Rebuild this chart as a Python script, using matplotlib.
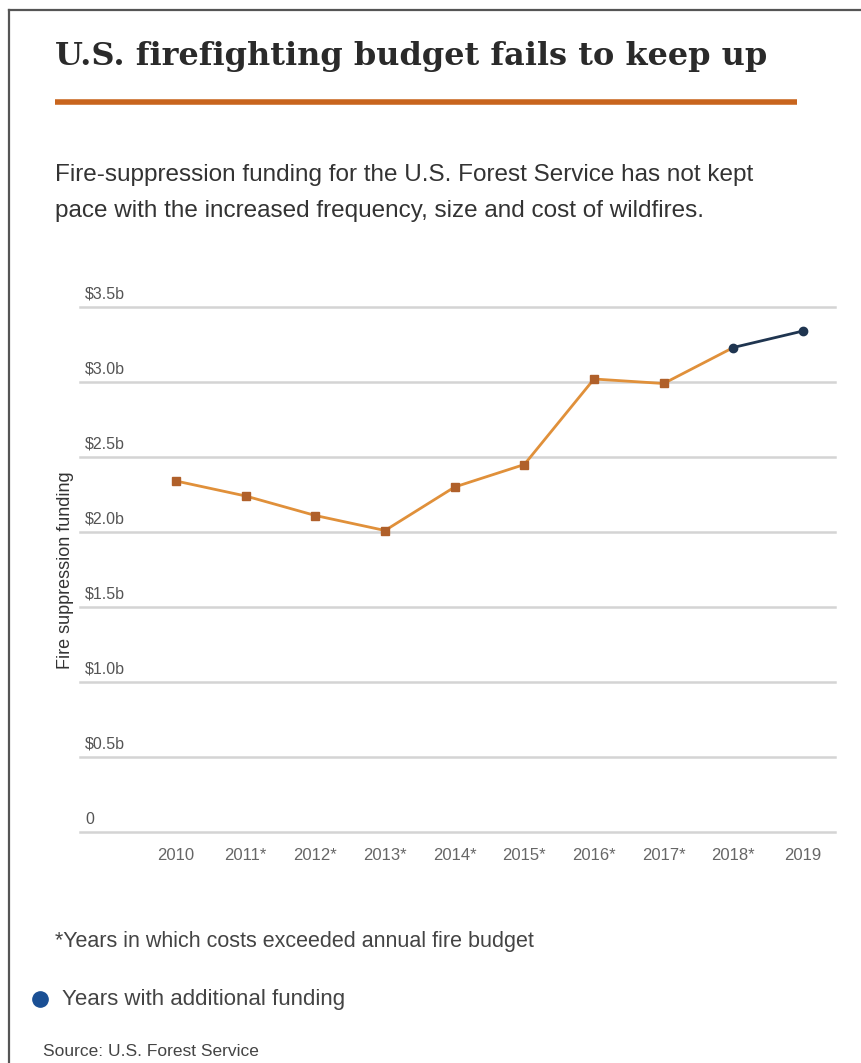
import matplotlib
matplotlib.use("Agg")
from matplotlib import pyplot as plt
from matplotlib.lines import Line2D
import numpy as np

W, H = 862, 1063

years = ["2010", "2011*", "2012*", "2013*", "2014*", "2015*", "2016*", "2017*", "2018*", "2019"]
funding = [2.34, 2.24, 2.11, 2.01, 2.30, 2.45, 3.02, 2.99, 3.23, 3.34]
extra_funding = [False, False, False, False, False, False, False, False, True, True]
y_ticks = [0, 0.5, 1.0, 1.5, 2.0, 2.5, 3.0, 3.5]
y_tick_labels = ["0", "$0.5b", "$1.0b", "$1.5b", "$2.0b", "$2.5b", "$3.0b", "$3.5b"]

orange = "#e0903a"
brown = "#b0602a"
navy = "#1f3550"
rule = "#c8651e"


def fx(px):
    return px / W


def fy(py):
    return 1 - py / H


fig = plt.figure(figsize=(W / 100, H / 100), dpi=100)

# frame (only left and top edges are visible in the crop)
fig.add_artist(Line2D([fx(9), fx(9)], [fy(10), 0], color="#555555", lw=1.6))
fig.add_artist(Line2D([fx(9), 1], [fy(10), fy(10)], color="#555555", lw=1.6))

fig.text(fx(55), fy(65), "U.S. firefighting budget fails to keep up",
         family="DejaVu Serif", fontsize=23, fontweight="bold",
         color="#2a2a2a", va="baseline")
fig.add_artist(Line2D([fx(55), fx(797)], [fy(102), fy(102)], color=rule, lw=4,
                      solid_capstyle="butt"))

sub = ("Fire-suppression funding for the U.S. Forest Service has not kept\n"
       "pace with the increased frequency, size and cost of wildfires.")
fig.text(fx(55), fy(164), sub, family="Liberation Sans", fontsize=17.5,
         color="#333333", va="top", linespacing=1.85)

# plot area: x 80..835 px, y value 0 at 832 px, 150 px per $1b
top_val = 3.6
ax = fig.add_axes([fx(80), fy(832), fx(835) - fx(80), (top_val * 150) / H])
ax.set_ylim(0, top_val)
ax.set_xlim(-96 / 69.67, 9 + 32 / 69.67)
ax.axis("off")

for v, lab in zip(y_ticks, y_tick_labels):
    ax.axhline(v, color="#d4d4d4", lw=1.8, zorder=0, clip_on=False)
    ax.text(0.007, v + 0.035, lab,
            transform=ax.get_yaxis_transform(), fontsize=11.5, color="#555555",
            family="Liberation Sans", ha="left", va="bottom")

x = np.arange(len(years))
for i in range(len(x) - 1):
    c = navy if extra_funding[i] and extra_funding[i + 1] else orange
    ax.plot(x[i:i + 2], funding[i:i + 2], color=c, lw=2, zorder=2)
for i in range(len(x)):
    mc = navy if extra_funding[i] else brown
    ax.plot(x[i], funding[i], "s" if not extra_funding[i] else "o", ms=6,
            color=mc, zorder=3, clip_on=False)

for i, lab in enumerate(years):
    ax.text(x[i], -0.16, lab, ha="center", va="center", fontsize=12,
            color="#666666", family="Liberation Sans")

fig.text(fx(66), fy(570), "Fire suppression funding", rotation=90,
         ha="center", va="center", fontsize=13, color="#333333",
         family="Liberation Sans")

fig.text(fx(55), fy(941), "*Years in which costs exceeded annual fire budget",
         family="Liberation Sans", fontsize=15.5, color="#444444", va="center")
fig.add_artist(Line2D([fx(40)], [fy(999)], marker="o", ms=11, color="#1a4f94",
                      lw=0))
fig.text(fx(62), fy(999), "Years with additional funding",
         family="Liberation Sans", fontsize=16, color="#444444", va="center")
fig.text(fx(43), fy(1052), "Source: U.S. Forest Service",
         family="Liberation Sans", fontsize=12.5, color="#444444", va="center")

fig.savefig("out.png", dpi=100, facecolor="white")
